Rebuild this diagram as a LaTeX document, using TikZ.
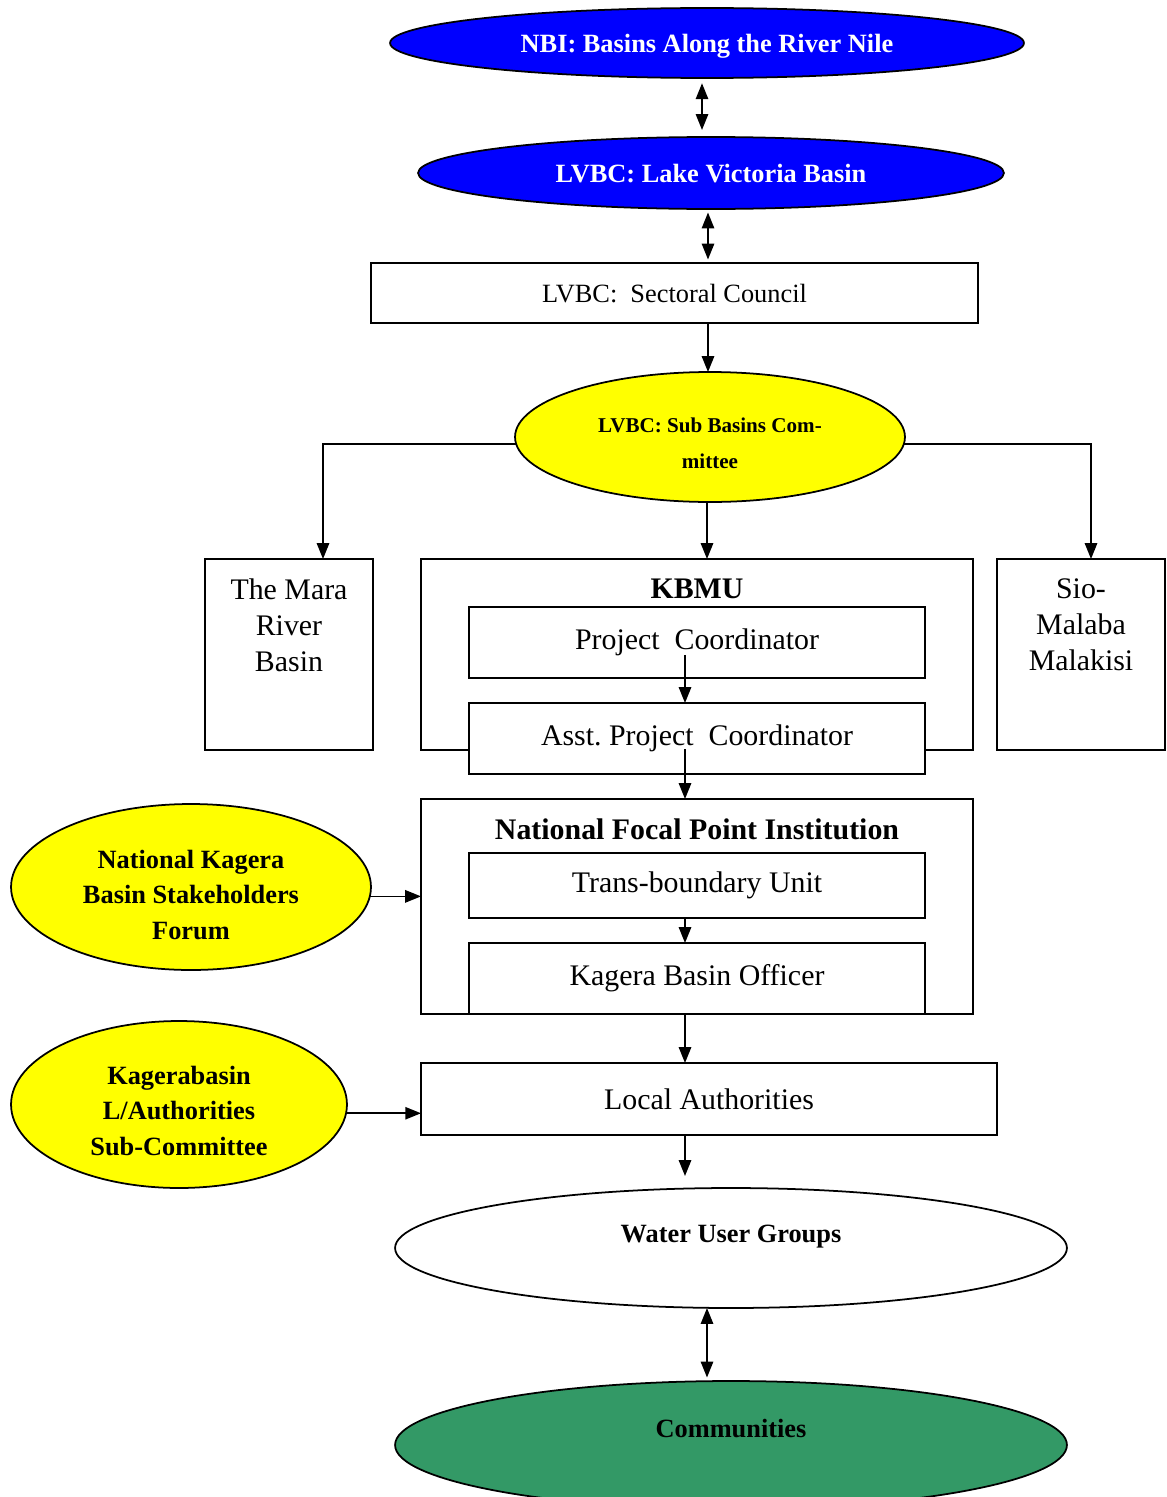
\documentclass[tikz,border=0pt]{standalone}
\usepackage{fontspec}
\setmainfont{Liberation Serif}
\usetikzlibrary{shapes.geometric,arrows.meta,calc}
\definecolor{nileblue}{RGB}{0,0,255}
\definecolor{subyellow}{RGB}{255,255,0}
\definecolor{commgreen}{RGB}{51,153,102}

\begin{document}
\begin{tikzpicture}[x=0.02cm, y=-0.02cm, line width=1pt,
  oval/.style={ellipse, draw, inner sep=0pt, outer sep=0pt},
  unit/.style={rectangle, draw, fill=white, inner sep=0pt, outer sep=0pt},
  boxtext/.style={font=\fontsize{17}{20.4}\selectfont, align=center},
  boxtitle/.style={font=\fontsize{17}{20.4}\selectfont\bfseries, inner sep=0pt, anchor=north},
  ovaltext/.style={font=\fontsize{15}{20.4}\selectfont\bfseries, align=center},
  arr/.style={-{Triangle[length=9pt,width=7pt]}},
  dbl/.style={{Triangle[length=9pt,width=7pt]}-{Triangle[length=9pt,width=7pt]}}]
  \useasboundingbox (0,0) rectangle (1166,1497);

  % columns used by the vertical connectors
  \coordinate (colA) at (702,0);
  \coordinate (colB) at (708,0);
  \coordinate (colC) at (685,0);
  \coordinate (colD) at (707,0);
  \coordinate (laend) at (685,1176);

  % top of the hierarchy
  \node[oval, fill=nileblue, text=white, ovaltext, text depth=0pt, minimum width=12.68cm, minimum height=1.4cm] (nbi) at (707,43) {NBI: Basins Along the River Nile};
  \node[oval, fill=nileblue, text=white, ovaltext, text depth=0pt, minimum width=11.72cm, minimum height=1.44cm] (lvbc) at (711,173) {LVBC: Lake Victoria Basin};
  \node[unit, boxtext, font=\fontsize{15}{18}\selectfont, text depth=0pt, minimum width=12.14cm, minimum height=1.2cm] (sector) at (674.5,293) {LVBC:\ \ Sectoral Council};
  \node[oval, fill=subyellow, minimum width=7.8cm, minimum height=2.6cm] (sb) at (710,437) {};
  \node[align=center, font=\fontsize{12}{20.4}\selectfont\bfseries] (sbtext) at (710,443) {LVBC: Sub Basins Com-\\mittee};

  % sub basins
  \node[unit, minimum width=3.36cm, minimum height=3.82cm] (mara) at (289,654.5) {};
  \node[boxtext, inner sep=0pt, anchor=north] (maratext) at (289,578) {The Mara\\River\\Basin};
  \node[unit, minimum width=3.36cm, minimum height=3.82cm] (sio) at (1081,654.5) {};
  \node[boxtext, inner sep=0pt, anchor=north] (siotext) at (1081,578) {Sio-\\Malaba\\Malakisi};

  % KBMU
  \node[unit, minimum width=11.04cm, minimum height=3.82cm] (kbmu) at (697,654.5) {};
  \node[boxtitle] (kbmutitle) at (697,578) {KBMU};
  \node[unit, boxtext, minimum width=9.12cm, minimum height=1.42cm] (pc) at (697,642.5) {Project\ \ Coordinator};
  \node[unit, boxtext, minimum width=9.12cm, minimum height=1.42cm] (asst) at (697,738.5) {Asst.\ Project\ \ Coordinator};

  % national focal point
  \node[unit, minimum width=11.04cm, minimum height=4.3cm] (nfpi) at (697,906.5) {};
  \node[boxtitle] (nfpititle) at (697,818) {National Focal Point Institution};
  \node[unit, boxtext, minimum width=9.12cm, minimum height=1.3cm] (tb) at (697,885.5) {Trans-boundary Unit};
  \node[unit, boxtext, minimum width=9.12cm, minimum height=1.42cm] (kbo) at (697,978.5) {Kagera Basin Officer};
  \node[unit, boxtext, minimum width=11.52cm, minimum height=1.44cm] (la) at (709,1099) {Local Authorities};

  % side forums
  \node[oval, fill=subyellow, minimum width=7.2cm, minimum height=3.32cm] (nkf) at (191,887) {};
  \node[ovaltext] (nkftext) at (191,895) {National Kagera\\Basin Stakeholders\\Forum};
  \node[oval, fill=subyellow, minimum width=6.72cm, minimum height=3.34cm] (klc) at (179,1104.5) {};
  \node[ovaltext] (klctext) at (179,1111) {Kagerabasin\\L/Authorities\\Sub-Committee};

  % grass roots
  \node[oval, fill=white, minimum width=13.44cm, minimum height=2.4cm] (wug) at (731,1248) {};
  \node[ovaltext] (wugtext) at (731,1237) {Water User Groups};
  \node[oval, fill=commgreen, minimum width=13.44cm, minimum height=2.56cm] (com) at (731,1445) {};
  \node[ovaltext] (comtext) at (731,1428) {Communities};

  % connectors
  \draw[dbl, shorten <=3pt, shorten >=4pt] (nbi.south -| colA) -- (lvbc.north -| colA);
  \draw[dbl, shorten <=2pt, shorten >=2pt] (lvbc.south -| colB) -- (sector.north -| colB);
  \draw[arr] (sector.south -| colB) -- (sb.north -| colB);
  \draw[arr] (sb.south -| colD) -- (kbmu.north -| colD);
  \draw[arr] (sb.182) -| ($(mara.north)+(34,0)$);
  \draw[arr] (sb.358) -| ($(sio.north)+(10,0)$);
  \draw[arr] ([yshift=-7pt]pc.center -| colC) -- (asst.north -| colC);
  \draw[arr] ([yshift=-6pt]asst.center -| colC) -- (nfpi.north -| colC);
  \draw[arr] (tb.south -| colC) -- (kbo.north -| colC);
  \draw[arr] (nfpi.south -| colC) -- (la.north -| colC);
  \draw[arr] (la.south -| colC) -- (laend);
  \draw[dbl, shorten >=2pt] (wug.south -| colD) -- (com.north -| colD);
  \draw[arr] (nkf.357.4) -- (nkf.357.4 -| nfpi.west);
  \draw[arr] (klc.357.6) -- (klc.357.6 -| la.west);
\end{tikzpicture}
\end{document}
